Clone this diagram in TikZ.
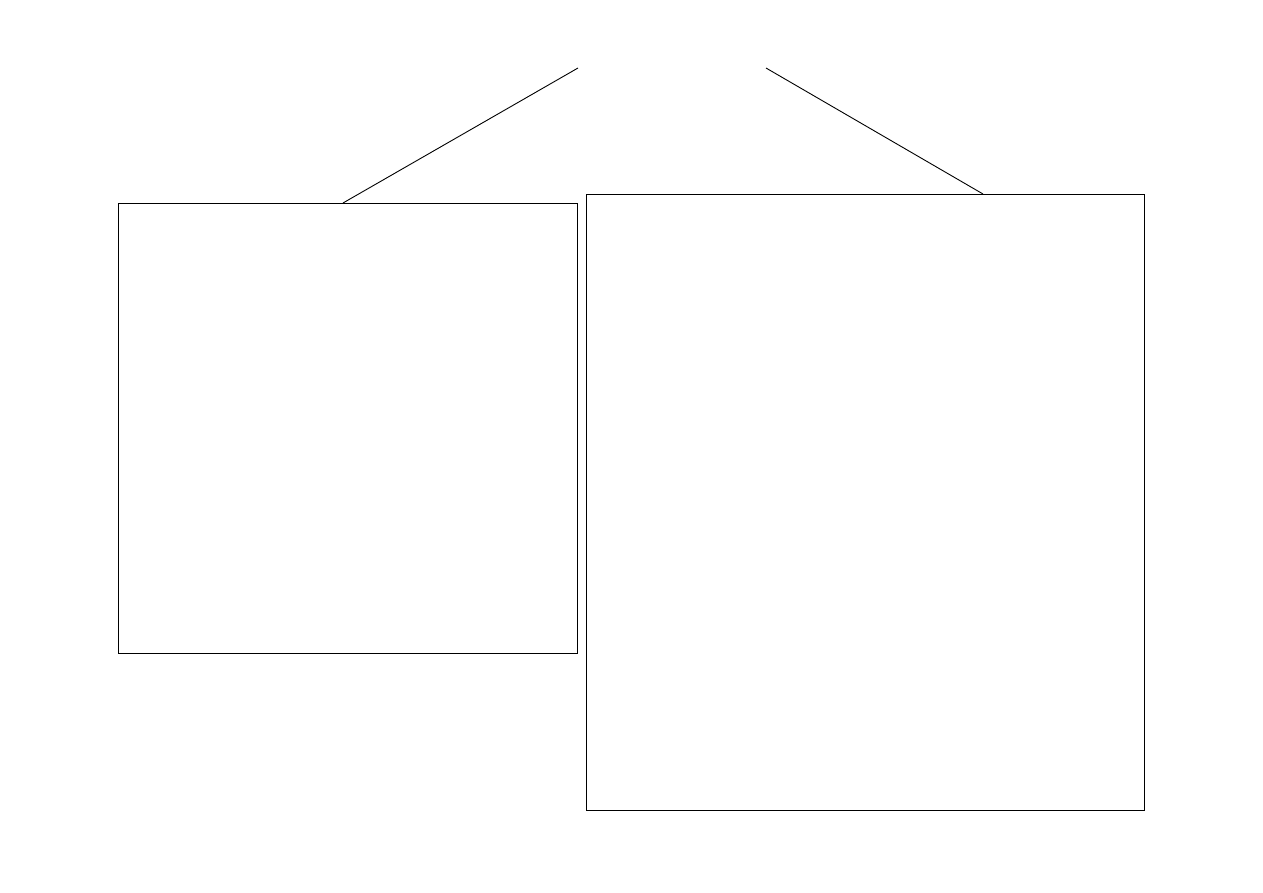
\documentclass[tikz,border=0pt]{standalone}
\begin{document}
\begin{tikzpicture}[x=1pt,y=-1pt,
  box/.style={draw=black,line width=0.9pt,inner sep=0pt,outer sep=0pt,fill=white},
  link/.style={draw=black,line width=0.9pt}]
\useasboundingbox (0,0) rectangle (1263,893);
\node[inner sep=0pt,outer sep=0pt,minimum width=188pt,minimum height=20pt,anchor=south] (root) at (672,68) {};
\node[box,minimum width=459pt,minimum height=450pt] (L) at (347.5,428) {};
\node[box,minimum width=558pt,minimum height=616pt] (R) at (865,502) {};
\draw[link] (root.south west) -- ([xshift=-4.5pt]L.north);
\draw[link] (root.south east) -- ([xshift=118pt]R.north);
\end{tikzpicture}
\end{document}
